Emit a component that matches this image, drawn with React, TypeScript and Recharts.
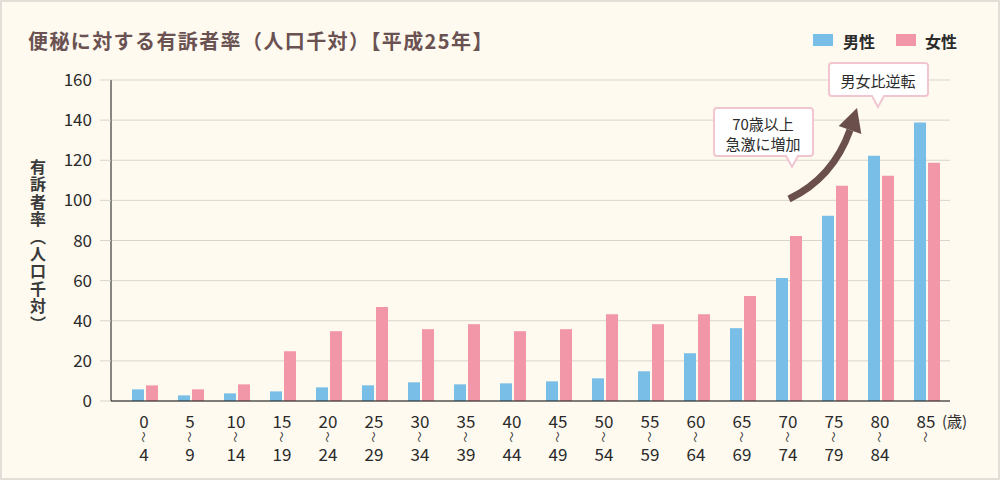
import React from "react";
import { BarChart, Bar, XAxis, YAxis, CartesianGrid } from "recharts";

const ageStarts = ["0", "5", "10", "15", "20", "25", "30", "35", "40", "45", "50", "55", "60", "65", "70", "75", "80", "85"];
const ageEnds = ["4", "9", "14", "19", "24", "29", "34", "39", "44", "49", "54", "59", "64", "69", "74", "79", "84", ""];
const maleRates = [5.8, 2.8, 3.8, 4.8, 6.8, 7.8, 9.3, 8.3, 8.8, 9.8, 11.3, 14.8, 23.8, 36.3, 61.3, 92.3, 122.3, 138.8];
const femaleRates = [7.8, 5.8, 8.3, 24.8, 34.8, 46.8, 35.8, 38.3, 34.8, 35.8, 43.3, 38.3, 43.3, 52.3, 82.3, 107.3, 112.3, 118.8];
const yTicks = [0, 20, 40, 60, 80, 100, 120, 140, 160];
const yTitle = "有訴者率（人口千対）";

const FONT = '"Noto Sans CJK JP", "Noto Sans", sans-serif';
const MALE_COLOR = "#78bee6";
const FEMALE_COLOR = "#f297a7";
const TEXT = "#2b2b2b";
const GRID = "#d9d5cc";
const BUBBLE_BORDER = "#f2c6d0";

const data = ageStarts.map((age, i) => ({
  age,
  end: ageEnds[i],
  male: maleRates[i],
  female: femaleRates[i],
}));

// 3-line age label: start / vertical wave / end
function AgeTick(props: any) {
  const { x, y, payload, index } = props;
  const end = ageEnds[index];
  const isLast = index === ageStarts.length - 1;
  return (
    <g>
      <text x={x - 1} y={y + 11} textAnchor="middle" dominantBaseline="central" fontSize={17} fill={TEXT} fontFamily={FONT}>
        {payload.value}
      </text>
      <text
        x={0}
        y={0}
        textAnchor="middle"
        dominantBaseline="central"
        fontSize={11}
        fill={TEXT}
        fontFamily={FONT}
        transform={`translate(${x - 1},${y + 28}) rotate(90)`}
      >
        〜
      </text>
      {end && (
        <text x={x - 1} y={y + 44} textAnchor="middle" dominantBaseline="central" fontSize={17} fill={TEXT} fontFamily={FONT}>
          {end}
        </text>
      )}
      {isLast && (
        <text x={x + 15} y={y + 11} textAnchor="start" dominantBaseline="central" fontSize={15} fill={TEXT} fontFamily={FONT}>
          (歳)
        </text>
      )}
    </g>
  );
}

// speech-bubble outline with a pointer at the bottom
function bubblePath(x0: number, y0: number, w: number, h: number, px: number, tipY: number) {
  const r = 3;
  const x1 = x0 + w;
  const y1 = y0 + h;
  return `M ${x0 + r} ${y0} H ${x1 - r} Q ${x1} ${y0} ${x1} ${y0 + r} V ${y1 - r} Q ${x1} ${y1} ${x1 - r} ${y1}
    H ${px + 6} L ${px} ${tipY} L ${px - 6} ${y1} H ${x0 + r} Q ${x0} ${y1} ${x0} ${y1 - r} V ${y0 + r} Q ${x0} ${y0} ${x0 + r} ${y0} Z`;
}

function Annotations() {
  return (
    <svg width={1000} height={480} style={{ position: "absolute", left: 0, top: 0, pointerEvents: "none" }}>
      <text
        x={38}
        y={159}
        fontSize={16}
        fontWeight={700}
        fill="#3a3a3a"
        fontFamily={FONT}
        style={{ writingMode: "vertical-rl", letterSpacing: "1.4px" }}
      >
        {yTitle}
      </text>
      <path d={bubblePath(829, 63, 99, 33, 878, 107)} fill="#fff" stroke={BUBBLE_BORDER} strokeWidth={2} />
      <text x={878} y={80} textAnchor="middle" dominantBaseline="central" fontSize={15} fill={TEXT} fontFamily={FONT}>
        男女比逆転
      </text>
      <path d={bubblePath(714, 108, 99, 48, 792, 167)} fill="#fff" stroke={BUBBLE_BORDER} strokeWidth={2} />
      <text x={763} y={123} textAnchor="middle" dominantBaseline="central" fontSize={15} fill={TEXT} fontFamily={FONT}>
        70歳以上
      </text>
      <text x={763} y={143} textAnchor="middle" dominantBaseline="central" fontSize={15} fill={TEXT} fontFamily={FONT}>
        急激に増加
      </text>
      <path d="M 789 199 Q 833 178 850 130" fill="none" stroke="#6b4f4b" strokeWidth={7} />
      <polygon points="857,108 838.7,126 861.3,134" fill="#6b4f4b" />
    </svg>
  );
}

export default function App() {
  return (
    <div
      style={{
        position: "relative",
        width: 1000,
        height: 480,
        background: "#fefaf0",
        fontFamily: FONT,
        overflow: "hidden",
      }}
    >
      <style>{`body{margin:0}`}</style>
      <div
        style={{
          position: "absolute",
          inset: 0,
          border: "2px solid #e2dfd8",
          boxSizing: "border-box",
          pointerEvents: "none",
        }}
      />
      <div
        style={{
          position: "absolute",
          left: 28,
          top: 27,
          fontSize: 20,
          lineHeight: "28px",
          fontWeight: 700,
          letterSpacing: "1.4px",
          color: "#6b5252",
          whiteSpace: "nowrap",
        }}
      >
        便秘に対する有訴者率（人口千対）【平成25年】
      </div>
      <div style={{ position: "absolute", left: 813, top: 34, width: 20, height: 12, background: MALE_COLOR }} />
      <div style={{ position: "absolute", left: 843, top: 29, fontSize: 16, lineHeight: "24px", fontWeight: 700, color: TEXT }}>
        男性
      </div>
      <div style={{ position: "absolute", left: 896, top: 34, width: 20, height: 12, background: FEMALE_COLOR }} />
      <div style={{ position: "absolute", left: 925, top: 29, fontSize: 16, lineHeight: "24px", fontWeight: 700, color: TEXT }}>
        女性
      </div>
      <BarChart
        width={1000}
        height={480}
        data={data}
        margin={{ top: 80, right: 50, left: 0, bottom: 0 }}
        barSize={12}
        barGap={2}
      >
        <CartesianGrid vertical={false} stroke={GRID} />
        <XAxis
          dataKey="age"
          height={79}
          padding={{ left: 11, right: 0 }}
          axisLine={{ stroke: "#111" }}
          tickLine={false}
          interval={0}
          tick={<AgeTick />}
        />
        <YAxis
          width={111}
          domain={[0, 160]}
          ticks={yTicks}
          interval={0}
          tickSize={11}
          tickMargin={8}
          axisLine={{ stroke: "#111" }}
          tickLine={{ stroke: GRID }}
          tick={{ fill: TEXT, fontSize: 17, fontFamily: FONT }}
        />
        <Bar dataKey="male" name="男性" fill={MALE_COLOR} isAnimationActive={false} />
        <Bar dataKey="female" name="女性" fill={FEMALE_COLOR} isAnimationActive={false} />
      </BarChart>
      <Annotations />
    </div>
  );
}
